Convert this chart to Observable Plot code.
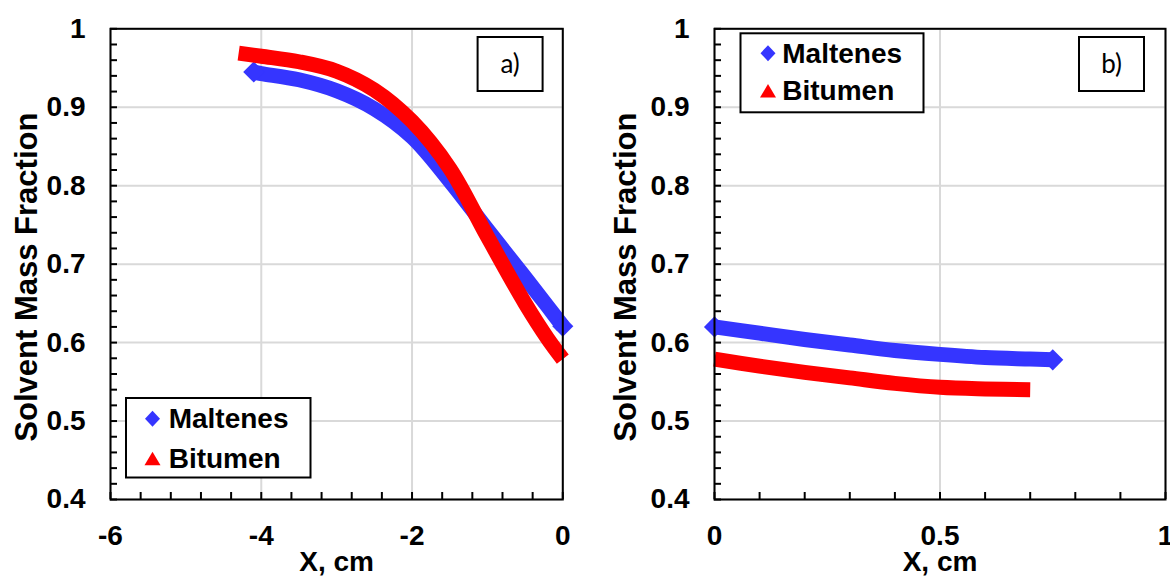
<!DOCTYPE html>
<html>
<head>
<meta charset="utf-8">
<script src="https://cdn.jsdelivr.net/npm/d3@7"></script>
<script src="https://cdn.jsdelivr.net/npm/@observablehq/plot@0.6"></script>
<style>
  html, body { margin: 0; padding: 0; background: #fff; }
  #wrap { position: relative; width: 1170px; height: 576px; overflow: hidden; background: #fff; }
  #wrap > svg, #wrap > figure { position: absolute; top: 0; margin: 0; }
  #overlay { position: absolute; left: 0; top: 0; pointer-events: none; }
</style>
</head>
<body>
<div id="wrap"></div>
<script>
// ---- Data ----
// Panel a)
const maltenesXa = [-4.1, -4.0, -3.5, -3.0, -2.5, -2.0, -1.5, -1.0, -0.5, -0.2, 0];
const maltenesYa = [0.945, 0.943, 0.935, 0.921, 0.898, 0.862, 0.806, 0.744, 0.683, 0.646, 0.621];
const bitumenXa  = [-4.3, -4.0, -3.5, -3.0, -2.5, -2.0, -1.5, -1.0, -0.5, -0.2, 0];
const bitumenYa  = [0.969, 0.965, 0.958, 0.946, 0.922, 0.882, 0.822, 0.735, 0.65, 0.605, 0.579];
// Panel b)
const maltenesXb = [0, 0.1, 0.2, 0.3, 0.4, 0.5, 0.6, 0.7, 0.75];
const maltenesYb = [0.62, 0.612, 0.604, 0.597, 0.59, 0.585, 0.581, 0.579, 0.578];
const bitumenXb  = [0, 0.1, 0.2, 0.3, 0.4, 0.5, 0.6, 0.7];
const bitumenYb  = [0.579, 0.57, 0.562, 0.555, 0.548, 0.543, 0.541, 0.54];

// Ticks
const xTicksA = [-6, -4, -2, 0];
const xTicksB = [0, 0.5, 1];
const yTicks = [0.4, 0.5, 0.6, 0.7, 0.8, 0.9, 1];
const seriesNames = ["Maltenes", "Bitumen"];
const seriesColors = ["#3535ff", "#ff0000"];
const xTitle = "X, cm";
const yTitle = "Solvent Mass Fraction";

const xMinorA = d3.range(0, 16).map(i => -6 + i * 0.4);
const xMinorB = d3.range(0, 11).map(i => i * 0.1);
const yMinor = d3.range(0, 31).map(i => 0.4 + i * 0.02);

const toRows = (xs, ys) => xs.map((x, i) => ({x, y: ys[i]}));
const fmt = d => String(+d.toFixed(2));

function panel({xDomain, xTicks, xMinor, left, width, marginLeft, marginRight, mal, bit, titleDx}) {
  const grid = {stroke: "#d9d9d9", strokeOpacity: 1, strokeWidth: 2};
  const malEnds = [mal[0], mal[mal.length - 1]];
  const svg = Plot.plot({
    width, height: 576,
    marginLeft, marginRight, marginTop: 28.3, marginBottom: 77,
    x: {domain: xDomain, label: null},
    y: {domain: [0.4, 1], label: null},
    style: {fontFamily: "'Liberation Sans', Arial, sans-serif", fontWeight: "bold", fontSize: "28px", color: "#000", background: "transparent", overflow: "visible"},
    marks: [
      Plot.gridX(xTicks, grid),
      Plot.gridY(yTicks, grid),
      Plot.axisX(xMinor, {tickSize: 7, dy: -7, tickFormat: () => "", stroke: "#000", strokeWidth: 2, label: null}),
      Plot.axisY(yMinor, {tickSize: 7, dx: 7, tickFormat: () => "", stroke: "#000", strokeWidth: 2, label: null}),
      Plot.axisX(xTicks, {tickSize: 0, tickPadding: 26, fontSize: 28, fontWeight: "bold", tickFormat: fmt, label: null}),
      Plot.axisY(yTicks, {tickSize: 0, tickPadding: 25, fontSize: 28, fontWeight: "bold", tickFormat: fmt, label: null}),
      Plot.line(mal, {x: "x", y: "y", stroke: seriesColors[0], strokeWidth: 15, curve: "catmull-rom", strokeLinecap: "butt"}),
      Plot.dot(malEnds, {x: "x", y: "y", fill: seriesColors[0], symbol: "diamond2", r: 9.5}),
      Plot.line(bit, {x: "x", y: "y", stroke: seriesColors[1], strokeWidth: 15, curve: "catmull-rom", strokeLinecap: "butt"}),
      Plot.frame({stroke: "#000", strokeWidth: 2}),
      Plot.text([xTitle], {frameAnchor: "bottom", dy: 52, lineAnchor: "top", textAnchor: "middle", fontSize: 28, fontWeight: "bold"}),
      Plot.text([yTitle], {frameAnchor: "left", rotate: -90, dx: titleDx, dy: 13, textAnchor: "middle", fontSize: 31, fontWeight: "bold"})
    ]
  });
  svg.style.left = left + "px";
  return svg;
}

const wrap = document.getElementById("wrap");
wrap.appendChild(panel({
  xDomain: [-6, 0], xTicks: xTicksA, xMinor: xMinorA,
  left: 0, width: 600, marginLeft: 110, marginRight: 37.7,
  mal: toRows(maltenesXa, maltenesYa), bit: toRows(bitumenXa, bitumenYa), titleDx: -83.6
}));
wrap.appendChild(panel({
  xDomain: [0, 1], xTicks: xTicksB, xMinor: xMinorB,
  left: 600, width: 570, marginLeft: 114, marginRight: 5,
  mal: toRows(maltenesXb, maltenesYb), bit: toRows(bitumenXb, bitumenYb), titleDx: -88.3
}));

// ---- Legends and panel labels ----
const ns = "http://www.w3.org/2000/svg";
const ov = document.createElementNS(ns, "svg");
ov.setAttribute("id", "overlay");
ov.setAttribute("width", 1170);
ov.setAttribute("height", 576);
wrap.appendChild(ov);
function el(tag, attrs, text) {
  const e = document.createElementNS(ns, tag);
  for (const k in attrs) e.setAttribute(k, attrs[k]);
  if (text != null) e.textContent = text;
  ov.appendChild(e);
  return e;
}
function legend(x, y, w, h, symX, textX, rowY) {
  el("rect", {x, y, width: w, height: h, fill: "#fff", stroke: "#000", "stroke-width": 2});
  const cy0 = rowY[0] - 9.5;
  el("path", {d: `M${symX},${cy0 - 8}L${symX + 7.5},${cy0}L${symX},${cy0 + 8}L${symX - 7.5},${cy0}Z`, fill: seriesColors[0]});
  const cy1 = rowY[1] - 9;
  el("path", {d: `M${symX},${cy1 - 7}L${symX + 8},${cy1 + 6.5}L${symX - 8},${cy1 + 6.5}Z`, fill: seriesColors[1]});
  seriesNames.forEach((n, i) => el("text", {x: textX, y: rowY[i], "font-family": "'Liberation Sans', Arial, sans-serif", "font-weight": "bold", "font-size": 28, fill: "#000"}, n));
}
legend(126, 398, 184.5, 79.5, 152.5, 168.7, [428.3, 467.7]);
legend(740.5, 33.3, 183, 79, 768, 782.3, [62.7, 100]);

function tag(x, y, w, h, label) {
  el("rect", {x, y, width: w, height: h, fill: "#fff", stroke: "#000", "stroke-width": 2});
  el("text", {x: x + w / 2, y: y + h / 2 + 9, "text-anchor": "middle", "font-family": "Lato, 'Open Sans', sans-serif", "font-size": 26, fill: "#000"}, label);
}
tag(477.6, 37, 65, 54, "a)");
tag(1079, 37, 65, 54, "b)");
</script>
</body>
</html>
